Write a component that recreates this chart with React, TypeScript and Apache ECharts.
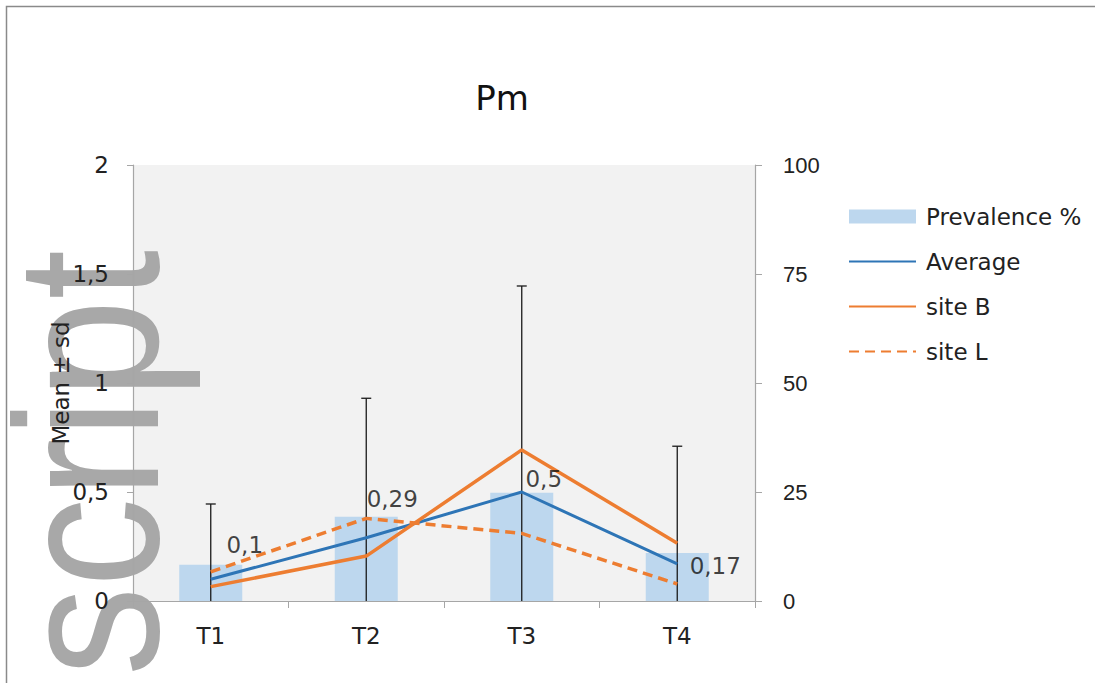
import React, { useEffect, useRef } from "react";
import * as echarts from "echarts";

const categories = ["T1", "T2", "T3", "T4"];
const prevalence = [8.3, 19.3, 24.8, 11.0];
const average = [0.1, 0.29, 0.5, 0.17];
const averageSd = [0.345, 0.64, 0.945, 0.54];
const siteB = [0.066, 0.206, 0.693, 0.265];
const siteL = [0.134, 0.379, 0.31, 0.078];
const leftTicks = { min: 0, max: 2, interval: 0.5 };
const rightTicks = { min: 0, max: 100, interval: 25 };
const labelOffsets = [
  [34, -34],
  [26, -39],
  [22, -13],
  [38, 2],
];

const FONT = "DejaVu Sans";
const comma = (v: number) => String(v).replace(".", ",");

export default function App() {
  const ref = useRef<HTMLDivElement>(null);
  useEffect(() => {
    if (!ref.current) return;
    const chart = echarts.init(ref.current, undefined, { renderer: "svg" });
    const option: any = {
      animation: false,
      backgroundColor: "#ffffff",
      title: {
        text: "Pm",
        left: 497,
        top: 76,
        textAlign: "center",
        textStyle: { fontFamily: FONT, fontSize: 34, fontWeight: "normal", color: "#111" },
      },
      graphic: [
        {
          type: "rect",
          shape: { x: 6.5, y: 6.5, width: 1200, height: 800 },
          style: { fill: "none", stroke: "#8a8a8a", lineWidth: 1.5 },
          z: 0,
          silent: true,
        },
        {
          type: "text",
          x: 190,
          y: 250,
          rotation: Math.PI / 2,
          scaleX: 0.87,
          z: 1,
          silent: true,
          style: {
            text: "uscript",
            fontFamily: "Liberation Sans",
            fontSize: 205,
            fill: "#a8a8a8",
            align: "right",
            verticalAlign: "bottom",
          },
        },
      ],
      legend: {
        orient: "vertical",
        left: 843,
        top: 200,
        itemGap: 22,
        itemWidth: 67,
        itemHeight: 14,
        textStyle: { fontFamily: FONT, fontSize: 23, color: "#222", padding: [0, 0, 0, 5] },
        data: [
          { name: "Prevalence %", icon: "rect" },
          { name: "Average", itemStyle: { opacity: 0 } },
          { name: "site B", itemStyle: { opacity: 0 } },
          { name: "site L", itemStyle: { opacity: 0 } },
        ],
      },
      grid: {
        left: 133,
        right: 340,
        top: 165,
        bottom: 82,
        show: true,
        backgroundColor: "#f2f2f2",
        borderWidth: 0,
      },
      xAxis: {
        type: "category",
        data: categories,
        boundaryGap: true,
        z: 5,
        axisLine: { lineStyle: { color: "#a6a6a6", width: 1.2 } },
        axisTick: { show: true, length: 7, lineStyle: { color: "#a6a6a6" } },
        axisLabel: { fontFamily: FONT, fontSize: 23, color: "#222", margin: 23 },
      },
      yAxis: [
        {
          type: "value",
          ...leftTicks,
          z: 5,
          name: "Mean ± sd",
          nameLocation: "middle",
          nameGap: 61,
          nameMoveOverlap: false,
          nameTextStyle: { fontFamily: FONT, fontSize: 23, color: "#222" },
          axisLine: { show: true, lineStyle: { color: "#a6a6a6", width: 1.2 } },
          axisTick: { show: true, length: 6, lineStyle: { color: "#a6a6a6" } },
          splitLine: { show: false },
          axisLabel: {
            fontFamily: FONT,
            fontSize: 23,
            color: "#222",
            margin: 24,
            formatter: (v: number) => comma(v),
          },
        },
        {
          type: "value",
          ...rightTicks,
          z: 5,
          position: "right",
          axisLine: { show: true, lineStyle: { color: "#a6a6a6", width: 1.2 } },
          axisTick: { show: true, length: 7, lineStyle: { color: "#a6a6a6" } },
          splitLine: { show: false },
          axisLabel: { fontFamily: "Liberation Sans", fontSize: 22, color: "#222", margin: 28 },
        },
      ],
      series: [
        {
          name: "Prevalence %",
          type: "bar",
          yAxisIndex: 1,
          barWidth: 63,
          data: prevalence,
          itemStyle: { color: "#bdd7ee" },
          z: 2,
        },
        {
          type: "custom",
          yAxisIndex: 0,
          z: 3,
          data: average.map((v, i) => [i, v, averageSd[i]]),
          renderItem: (params: any, api: any) => {
            const i = api.value(0);
            const m = api.value(1);
            const sd = api.value(2);
            const lo = Math.max(0, m - sd);
            const hi = m + sd;
            const pHi = api.coord([i, hi]);
            const pLo = api.coord([i, lo]);
            const children: any[] = [
              {
                type: "line",
                shape: { x1: pHi[0], y1: pHi[1], x2: pLo[0], y2: pLo[1] },
                style: { stroke: "#1a1a1a", lineWidth: 1.3 },
              },
              {
                type: "line",
                shape: { x1: pHi[0] - 5, y1: pHi[1], x2: pHi[0] + 5, y2: pHi[1] },
                style: { stroke: "#1a1a1a", lineWidth: 1.3 },
              },
            ];
            if (m - sd > 0) {
              children.push({
                type: "line",
                shape: { x1: pLo[0] - 5, y1: pLo[1], x2: pLo[0] + 5, y2: pLo[1] },
                style: { stroke: "#1a1a1a", lineWidth: 1.3 },
              });
            }
            return { type: "group", children };
          },
        },
        {
          name: "Average",
          type: "line",
          yAxisIndex: 0,
          data: average,
          symbol: "none",
          z: 4,
          lineStyle: { color: "#2e75b6", width: 3 },
          itemStyle: { color: "#2e75b6" },
        },
        {
          name: "site B",
          type: "line",
          yAxisIndex: 0,
          data: siteB,
          symbol: "none",
          z: 4,
          lineStyle: { color: "#ed7d31", width: 3.5 },
          itemStyle: { color: "#ed7d31" },
        },
        {
          name: "site L",
          type: "line",
          yAxisIndex: 0,
          data: siteL,
          symbol: "none",
          z: 4,
          lineStyle: { color: "#ed7d31", width: 3.5, type: [10, 6] },
          itemStyle: { color: "#ed7d31" },
        },
        {
          type: "scatter",
          yAxisIndex: 0,
          z: 5,
          symbolSize: 1,
          itemStyle: { color: "transparent" },
          silent: true,
          data: average.map((v, i) => ({
            value: [i, v],
            label: {
              show: true,
              position: "inside",
              offset: labelOffsets[i],
              formatter: comma(v),
              fontFamily: FONT,
              fontSize: 23,
              color: "#111",
            },
          })),
        },
      ],
    };
    chart.setOption(option);
    return () => chart.dispose();
  }, []);
  return (
    <div
      ref={ref}
      style={{ position: "fixed", left: 0, top: 0, width: 1095, height: 683 }}
    />
  );
}
